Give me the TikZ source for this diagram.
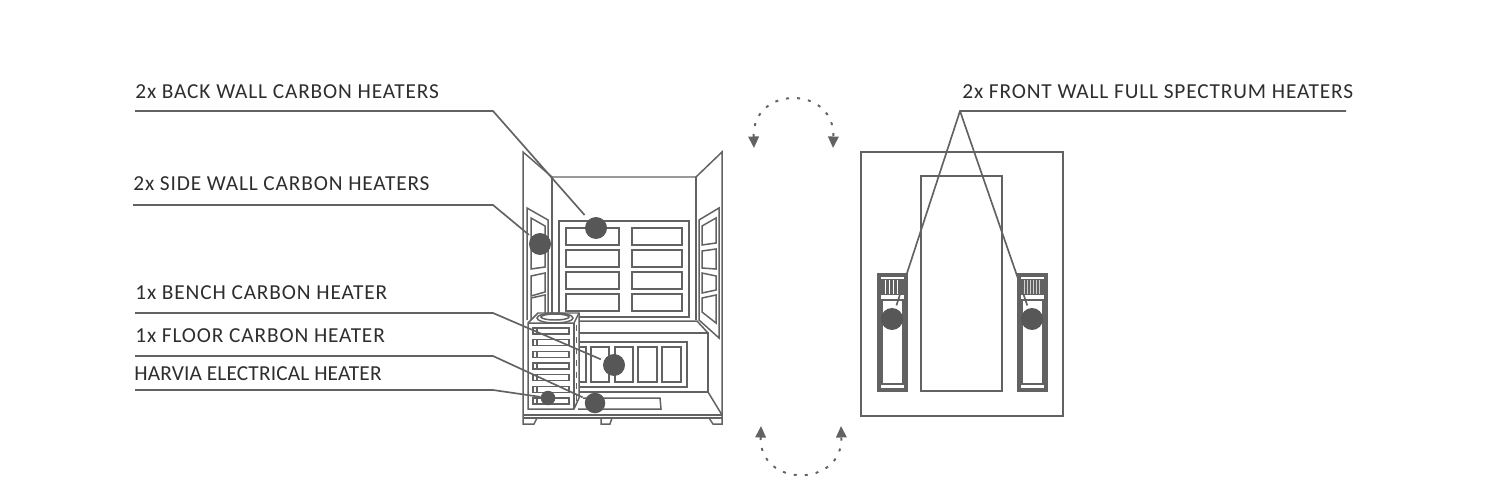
\documentclass[tikz,border=0pt]{standalone}
\usepackage{fontspec}
\setmainfont[LetterSpace=4]{Carlito}
\usepackage{xcolor}
\usetikzlibrary{arrows.meta}
\definecolor{linegray}{HTML}{626262}
\definecolor{dotgray}{HTML}{575757}
\definecolor{textgray}{HTML}{2E2E2E}

\begin{document}
\begin{tikzpicture}[
  x=0.02cm, y=-0.02cm,
  wall/.style={draw=linegray, line width=0.85pt, line join=miter},
  panel/.style={draw=linegray, line width=1.1pt, fill=white},
  leader/.style={draw=linegray, line width=0.95pt, shorten >=1.7pt},
  heavy/.style={draw=linegray, line width=1.75pt, fill=white},
  dot/.style={circle, fill=dotgray, inner sep=0pt, minimum size=0.44cm},
  caption/.style={anchor=base west, inner sep=0pt, text=textgray, font=\fontsize{12.15pt}{14pt}\selectfont},
  turn/.style={draw=linegray, line width=1.1pt, dash pattern=on 1.7pt off 4.6pt,
    {Triangle[length=0.23cm, width=0.21cm, fill=linegray]}-{Triangle[length=0.23cm, width=0.21cm, fill=linegray]}}
]
  \useasboundingbox (0,0) rectangle (1500,500);

  % Cabin walls
  \draw[wall] (523,415) -- (523,152) -- (552,177) -- (696,177) -- (722,152) -- (722,415);
  \draw[wall] (552,177) -- (552,320);
  \draw[wall] (696,177) -- (696,320);
  \draw[wall] (552,321) -- (697,321) -- (708,333);
  \draw[wall] (527,320) -- (527,208) -- (548,220) -- (548,320);
  \draw[wall] (699,320) -- (699,220) -- (719,208) -- (719,338) -- cycle;

  % Back wall heaters
  \draw[wall] (559,317) rectangle (689,221);
  \foreach \y in {228,250,272,294} {
    \draw[panel] (566,\y) rectangle (619,\y+17);
    \draw[panel] (632,\y) rectangle (682,\y+17);
  }

  % Side wall heaters
  \draw[wall] (531,218) -- (545,226) -- (545,267) -- (531,269) -- cycle;
  \draw[wall] (531,276) -- (545,273) -- (545,292) -- (531,296) -- cycle;
  \draw[wall] (531,320) -- (531,298) -- (545,295) -- (545,320);
  \draw[wall] (716,218) -- (702,226) -- (702,245) -- (716,243) -- cycle;
  \draw[wall] (716,249) -- (702,251) -- (702,268) -- (716,269) -- cycle;
  \draw[wall] (716,276) -- (702,273) -- (702,293) -- (716,290) -- cycle;
  \draw[wall] (716,295) -- (702,298) -- (702,312) -- (716,323) -- cycle;

  % Bench and floor
  \draw[wall] (578,333) -- (708,333) -- (708,392) -- (578,392);
  \draw[wall] (708,392) -- (722,415);
  \draw[wall] (578,342) -- (687,342) -- (687,387) -- (578,387);
  \draw[panel] (577,347) rectangle (586,382);
  \draw[panel] (591,347) rectangle (609,382);
  \draw[panel] (615,347) rectangle (633,382);
  \draw[panel] (638,347) rectangle (657,382);
  \draw[panel] (662,347) rectangle (681,382);
  \draw[wall] (583,398) -- (660,398) -- (661,409) -- (578,409);
  \draw[wall] (523,415) -- (722,415);
  \draw[wall] (523,418) -- (722,418);
  \draw[wall] (523,415) -- (523,424) -- (534,424) -- (537,418);
  \draw[wall] (601,418) -- (601,424) -- (610,424) -- (612,418);
  \draw[wall] (709,418) -- (713,424) -- (722,424) -- (722,415);

  % Electrical heater
  \draw[wall, fill=white] (528,323) -- (538,313) -- (579,313) -- (579,398) -- (574,409) -- (528,409) -- cycle;
  \draw[wall] (528,323) -- (574,323) -- (579,313);
  \draw[wall] (574,323) -- (574,409);
  \draw[wall] (555,318) ellipse (18 and 5);
  \draw[wall] (555,317) ellipse (14 and 3);
  \foreach \y in {328,339.7,351.4,363,374.7,386.4,398} {
    \draw[wall] (533,\y) rectangle (569,\y+6);
    \draw[wall] (537,\y) -- (537,\y+6);
    \draw[panel] (576.5,\y-3) -- (576.5,\y+3);
  }

  % Front view
  \draw[wall] (861,152) rectangle (1063,416);
  \draw[wall] (921,176) rectangle (1002,391);
  \foreach \x in {878,1018} {
    \draw[heavy] (\x+1,275) rectangle (\x+28,390);
    \draw[panel] (\x+4,300) rectangle (\x+25,384);
    \fill[linegray] (\x+3,279) rectangle (\x+26,295);
  }
  \foreach \x in {885,889,893,897}
    \draw[white, line width=0.45pt] (\x,280) -- (\x,294);
  \foreach \x in {1024,1027,1030,1033,1036,1039}
    \draw[white!70!linegray, line width=0.3pt] (\x,280) -- (\x,294);

  % Turn arrows
  \draw[turn] (754,148) .. controls (752,85) and (835,85) .. (833,148);
  \draw[turn] (761,426) .. controls (759,488) and (843,488) .. (841,426);

  % Labels
  \node[caption] (backlabel) at (135,98) {2x BACK WALL CARBON HEATERS};
  \node[caption] (sidelabel) at (133,190) {2x SIDE WALL CARBON HEATERS};
  \node[caption] (benchlabel) at (135,299) {1x BENCH CARBON HEATER};
  \node[caption] (floorlabel) at (135,342) {1x FLOOR CARBON HEATER};
  \node[caption] (stovelabel) at (134,380) {\addfontfeature{LetterSpace=0.7}HARVIA ELECTRICAL HEATER};
  \node[caption] (frontlabel) at (962,98) {2x FRONT WALL FULL SPECTRUM HEATERS};

  % Dots
  \node[dot] (backdot) at (596,228) {};
  \node[dot] (sidedot) at (540,244) {};
  \node[dot] (benchdot) at (614,365) {};
  \node[dot, minimum size=0.41cm] (floordot) at (595,403) {};
  \node[dot, minimum size=0.29cm] (stovedot) at (548,398) {};
  \node[dot] (leftdot) at (892,319) {};
  \node[dot] (rightdot) at (1032,319) {};

  % Leaders
  \coordinate (backa) at (135,111);
  \coordinate (backb) at (493,111);
  \coordinate (sidea) at (133,205);
  \coordinate (sideb) at (493,205);
  \coordinate (bencha) at (135,313);
  \coordinate (benchb) at (493,313);
  \coordinate (floora) at (135,356);
  \coordinate (floorb) at (493,356);
  \coordinate (stovea) at (135,390);
  \coordinate (stoveb) at (493,390);
  \coordinate (fronta) at (1346,111);
  \coordinate (frontb) at (960,111);
  \draw[leader, shorten >=3.4pt] (backa) -- (backb) -- (backdot);
  \draw[leader] (sidea) -- (sideb) -- (sidedot);
  \draw[leader] (bencha) -- (benchb) -- (benchdot);
  \draw[leader] (floora) -- (floorb) -- (floordot);
  \draw[leader, shorten >=0pt] (stovea) -- (stoveb) -- (stovedot);
  \draw[leader] (fronta) -- (frontb) -- (leftdot);
  \draw[leader] (frontb) -- (rightdot);
\end{tikzpicture}
\end{document}
